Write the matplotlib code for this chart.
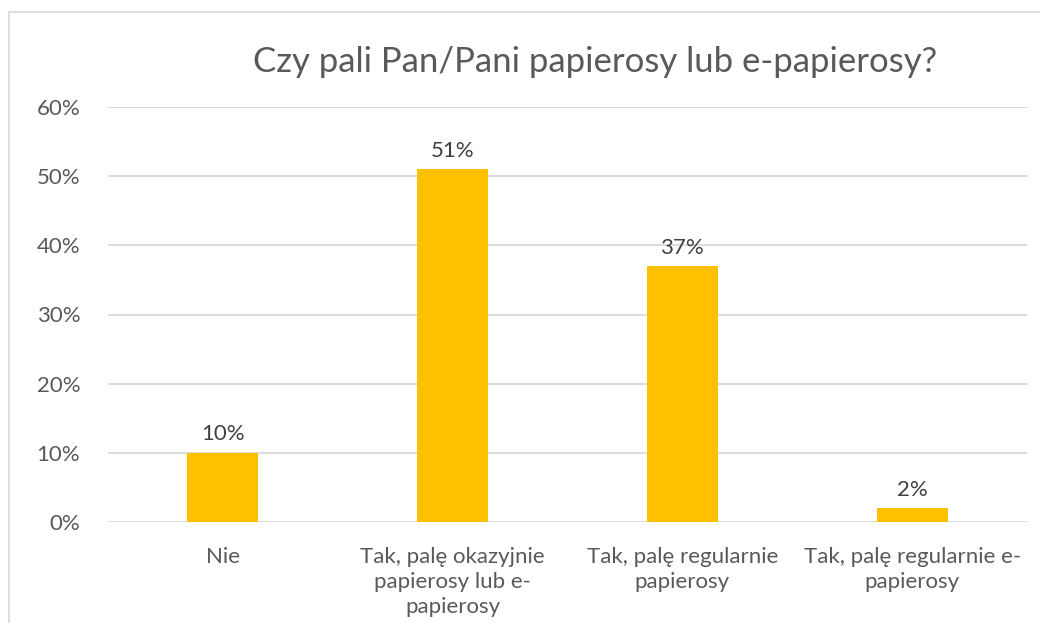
import matplotlib.pyplot as plt
from matplotlib.patches import Rectangle
from matplotlib.ticker import PercentFormatter

categories = ["Nie",
              "Tak, palę okazyjnie\npapierosy lub e-\npapierosy",
              "Tak, palę regularnie\npapierosy",
              "Tak, palę regularnie e-\npapierosy"]
values = [10, 51, 37, 2]
yticks = [0, 10, 20, 30, 40, 50, 60]
title = "Czy pali Pan/Pani papierosy lub e-papierosy?"

text_col = "#595959"
plt.rcParams['font.family'] = ['Lato', 'DejaVu Sans']

fig = plt.figure(figsize=(10.4, 6.23), dpi=100)
W, H = 1040, 623
# plot area in pixels: x 108..1027, y 107..522
ax = fig.add_axes([108 / W, 1 - 522 / H, (1027 - 108) / W, (522 - 107) / H])

x = range(len(values))
bars = ax.bar(x, values, width=0.31, color="#FFC000", zorder=3)
for b, v in zip(bars, values):
    ax.annotate(f"{v}%", (b.get_x() + b.get_width() / 2, v), xytext=(0, 6),
                textcoords="offset points", ha="center", va="bottom",
                fontsize=16, color="#404040")

ax.set_xlim(-0.5, len(values) - 0.5)
ax.set_ylim(0, 60)
ax.set_yticks(yticks)
ax.yaxis.set_major_formatter(PercentFormatter(decimals=0))
ax.set_xticks(list(x))
ax.set_xticklabels(categories, linespacing=1.32)
ax.tick_params(axis="y", length=0, pad=20, labelsize=16, labelcolor=text_col)
ax.tick_params(axis="x", length=0, pad=18, labelsize=16, labelcolor=text_col)
ax.grid(axis="y", color="#D9D9D9", linewidth=1.3, zorder=0)
for s in ax.spines.values():
    s.set_visible(False)

fig.text(595 / W, 1 - 62 / H, title, ha="center", va="center",
         fontsize=25, color=text_col)

# chart frame (runs off the right and bottom edge)
fig.patches.append(Rectangle((8.5 / W, -0.1), 1.2, 1 - 12 / H + 0.1,
                             transform=fig.transFigure, fill=False,
                             edgecolor="#D9D9D9", linewidth=1.2))

fig.savefig("out.png", dpi=100)
